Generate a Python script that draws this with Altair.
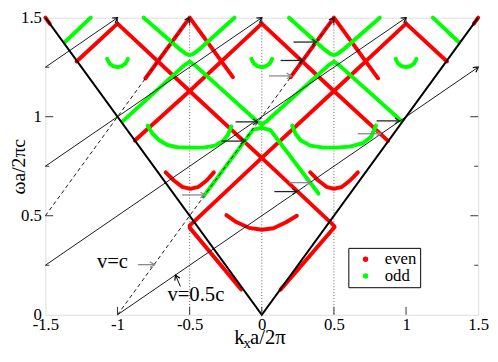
import math
import altair as alt
import pandas as pd

W, H = 440, 302

# ---------------- band data (kx a/2pi, omega a/2pi c) -------------
red_lines = [
    [(-0.500, 0.440), (-0.143, 0.127)],
    [(0.130, 0.127), (0.505, 0.443)],
    [(-1.000, 1.470), (-0.500, 1.130), (0.000, 0.792), (0.500, 0.450)],
    [(-0.500, 0.450), (0.000, 0.792), (0.500, 1.130), (1.000, 1.470)],
    [(-0.880, 0.880), (-0.500, 1.130), (0.000, 1.470)],
    [(0.000, 1.470), (0.500, 1.130), (0.875, 0.878)],
    [(-1.284, 1.279), (-1.000, 1.470)],
    [(1.000, 1.470), (1.284, 1.279)],
    [(-0.807, 1.193), (-0.500, 1.500), (-0.200, 1.200)],
    [(0.200, 1.200), (0.500, 1.500), (0.806, 1.194)],
    [(-1.500, 1.500), (-1.470, 1.470)],
    [(1.470, 1.470), (1.500, 1.500)],
]
red_arcs = [
    [(-0.245, 0.503), (-0.177, 0.468), (-0.089, 0.439), (0.000, 0.429),
     (0.080, 0.437), (0.165, 0.466), (0.243, 0.500)],
    [(-0.666, 0.719), (-0.609, 0.678), (-0.552, 0.646), (-0.496, 0.636),
     (-0.438, 0.646), (-0.382, 0.678), (-0.332, 0.719)],
    [(0.336, 0.719), (0.392, 0.678), (0.448, 0.646), (0.500, 0.636),
     (0.556, 0.646), (0.612, 0.678), (0.666, 0.719)],
]
green_lines = [
    [(-1.186, 1.500), (-1.366, 1.376)],
    [(1.186, 1.500), (1.366, 1.376)],
    [(-0.818, 1.500), (-0.560, 1.336), (-0.525, 1.317), (-0.500, 1.311),
     (-0.475, 1.317), (-0.440, 1.336), (-0.189, 1.500)],
    [(0.189, 1.500), (0.440, 1.336), (0.475, 1.317), (0.500, 1.311),
     (0.525, 1.317), (0.560, 1.336), (0.818, 1.500)],
    [(-0.961, 0.979), (-0.540, 1.258), (-0.500, 1.278), (-0.460, 1.258),
     (-0.035, 0.978), (0.000, 0.960), (0.035, 0.978), (0.460, 1.258),
     (0.500, 1.278), (0.540, 1.258), (0.966, 0.980)],
    [(-0.404, 0.598), (-0.060, 0.935), (0.000, 0.944), (0.060, 0.932), (0.393, 0.612)],
]
green_arcs = [
    [(-0.791, 0.955), (-0.757, 0.914), (-0.711, 0.881), (-0.655, 0.857), (-0.586, 0.846),
     (-0.496, 0.844), (-0.404, 0.844), (-0.325, 0.854), (-0.268, 0.877), (-0.234, 0.909),
     (-0.211, 0.951)],
    [(0.211, 0.955), (0.234, 0.914), (0.268, 0.881), (0.336, 0.854), (0.427, 0.844),
     (0.518, 0.844), (0.609, 0.849), (0.700, 0.866), (0.757, 0.898), (0.791, 0.955)],
    [(-1.072, 1.292), (-1.055, 1.268), (-1.030, 1.255), (-1.000, 1.251),
     (-0.970, 1.255), (-0.945, 1.268), (-0.928, 1.292)],
    [(-0.072, 1.292), (-0.055, 1.268), (-0.030, 1.255), (0.000, 1.251),
     (0.030, 1.255), (0.055, 1.268), (0.072, 1.292)],
    [(0.928, 1.292), (0.945, 1.268), (0.970, 1.255), (1.000, 1.251),
     (1.030, 1.255), (1.055, 1.268), (1.072, 1.292)],
]

# ---------------- reference lines --------------------------------------------------------
light_cone = [(-1.5, 1.5), (0.0, 0.0), (1.5, 1.5)]
beam_lines = [  # v = 0.5c
    [(-1.0, 0.0), (1.5, 1.25)],
    [(-1.5, 0.25), (1.0, 1.5)],
    [(-1.5, 0.75), (0.0, 1.5)],
    [(-1.5, 1.25), (-1.0, 1.5)],
]
light_lines = [  # v = c
    [(-1.0, 0.0), (0.5, 1.5)],
    [(-1.5, 0.5), (-0.5, 1.5)],
]
zone_edges = [-0.5, 0.0, 0.5]

# horizontal marker arrows
arrow_w = [1.377, 1.284, 1.206, 0.974, 0.877, 0.605, 0.979, 0.914, 0.667, 0.622, 0.253]
arrow_k0 = [0.220, 0.130, 0.050, -0.182, -0.280, -0.552, 0.796, 0.666, 0.189, 0.087, -0.859]
arrow_k1 = [0.380, 0.288, 0.205, -0.029, -0.114, -0.393, 0.955, 0.825, 0.336, 0.245, -0.743]
arrow_tone = ["#222222", "#222222", "#8a8a8a", "#222222", "#222222", "#8a8a8a",
              "#222222", "#8a8a8a", "#8a8a8a", "#222222", "#8a8a8a"]
# v=0.5c pointer
pointer = [(-0.564, 0.143), (-0.598, 0.200)]

labels_text = ["v=c", "v=0.5c"]
labels_k = [-1.035, -0.457]
labels_w = [0.234, 0.068]

x_ticks = [-1.0, -0.5, 0.0, 0.5, 1.0]
y_major = [0.5, 1.0]
y_minor = [0.25, 0.75, 1.25]

# ---------------- frames -------------------------------------------------------------------
def frame(groups, tag, parity=None):
    rows = []
    for i, pts in enumerate(groups):
        for j, (k, w) in enumerate(pts):
            rows.append({"seg": f"{tag}{i}", "idx": j, "kx": k, "w": w, "parity": parity})
    return pd.DataFrame(rows)

red_df = frame(red_lines + red_arcs, "r", "even")
green_df = frame(green_lines + green_arcs, "g", "odd")
cone_df = frame([light_cone], "c")
beam_df = frame(beam_lines, "b")
light_df = frame(light_lines, "l")
# band vertices as dots (they sit under the band strokes and carry the legend)
dots_df = pd.concat([red_df[red_df["idx"] == 0], green_df[green_df["idx"] == 0]])

sx, sy = W / 3.0, H / 1.5  # px per data unit


def px_angle(p0, p1):
    dx = (p1[0] - p0[0]) * sx
    dy = -(p1[1] - p0[1]) * sy
    return math.degrees(math.atan2(dy, dx)) % 360


heads = []
for seg in beam_lines + light_lines:
    heads.append({"kx": seg[-1][0], "w": seg[-1][1], "ang": px_angle(seg[-2], seg[-1]), "col": "#000000"})
for k0, k1, w, c in zip(arrow_k0, arrow_k1, arrow_w, arrow_tone):
    heads.append({"kx": k1, "w": w, "ang": 0.0, "col": c})
heads.append({"kx": pointer[1][0], "w": pointer[1][1], "ang": px_angle(pointer[0], pointer[1]), "col": "#000000"})
heads_df = pd.DataFrame(heads)

harrow_df = pd.DataFrame({"kx": arrow_k0, "kx2": arrow_k1, "w": arrow_w, "col": arrow_tone})
pointer_df = pd.DataFrame({"kx": [pointer[0][0]], "kx2": [pointer[1][0]],
                           "w": [pointer[0][1]], "w2": [pointer[1][1]]})
text_df = pd.DataFrame({"kx": labels_k, "w": labels_w, "t": labels_text})

SERIF = "'Liberation Serif', 'Times New Roman', Times, 'DejaVu Serif', serif"
label_expr = "replace(format(datum.value, '~g'), '\u2212', '-')"

xaxis = alt.Axis(values=[-1.5, -1, -0.5, 0, 0.5, 1, 1.5], title=None, ticks=False, tickSize=0,
                 domain=False, grid=False, labelFont=SERIF, labelFontSize=17, labelColor="black",
                 labelPadding=2, labelFlush=False, labelOverlap=False, labelExpr=label_expr)
yaxis = alt.Axis(values=[0, 0.5, 1, 1.5], title="\u03c9a/2\u03c0c", ticks=False, tickSize=0,
                 domain=False, grid=False, labelFont=SERIF, labelFontSize=17, labelColor="black",
                 labelPadding=4, labelFlush=False, labelOverlap=False, labelExpr=label_expr,
                 titleFont=SERIF, titleFontSize=20, titleFontWeight="normal", titleColor="black",
                 titleAngle=270, titleX=-27, titleBaseline="middle")
xsc = alt.Scale(domain=[-1.5, 1.5], nice=False, zero=False)
ysc = alt.Scale(domain=[0, 1.5], nice=False, zero=False)
X = alt.X("kx:Q", scale=xsc, axis=xaxis)
Y = alt.Y("w:Q", scale=ysc, axis=yaxis)

band_scale = alt.Scale(domain=["even", "odd"], range=["#ff0000", "#00ff00"])
color_nolegend = alt.Color("parity:N", scale=band_scale, legend=None)
color_legend = alt.Color("parity:N", scale=band_scale,
                         legend=alt.Legend(title=None, orient="none", legendX=308, legendY=234,
                                           symbolType="circle", symbolSize=16,
                                           symbolOffset=6, labelFont=SERIF, labelFontSize=17,
                                           labelColor="black", labelOffset=11, strokeColor="black",
                                           fillColor="white", padding=3, rowPadding=-1))

dots = alt.Chart(dots_df).mark_circle(size=12, opacity=1).encode(x=X, y=Y, color=color_legend)

edges = alt.Chart(pd.DataFrame({"kx": zone_edges})).mark_rule(
    color="#666666", strokeWidth=1, strokeDash=[1, 2]).encode(x=X, y=alt.value(0), y2=alt.value(H))

red = alt.Chart(red_df).mark_line(strokeWidth=4, strokeCap="round", strokeJoin="round").encode(
    x=X, y=Y, color=color_nolegend, detail="seg:N", order="idx:Q")
green = alt.Chart(green_df).mark_line(strokeWidth=4, strokeCap="round", strokeJoin="round").encode(
    x=X, y=Y, color=color_nolegend, detail="seg:N", order="idx:Q")

cone = alt.Chart(cone_df).mark_line(color="black", strokeWidth=2).encode(x=X, y=Y, order="idx:Q")
beams = alt.Chart(beam_df).mark_line(color="black", strokeWidth=0.9).encode(
    x=X, y=Y, detail="seg:N", order="idx:Q")
lights = alt.Chart(light_df).mark_line(color="black", strokeWidth=0.9, strokeDash=[4, 3]).encode(
    x=X, y=Y, detail="seg:N", order="idx:Q")

harrows = alt.Chart(harrow_df).mark_rule(strokeWidth=1.3).encode(
    x=X, x2="kx2:Q", y=Y, color=alt.Color("col:N", scale=None))
pointer_rule = alt.Chart(pointer_df).mark_rule(strokeWidth=1, color="black").encode(
    x=X, x2="kx2:Q", y=Y, y2="w2:Q")
heads_layer = alt.Chart(heads_df).mark_point(
    shape="M-1,-0.6L0,0L-1,0.6", filled=False, size=90, strokeWidth=1.2, opacity=1).encode(
    x=X, y=Y, angle=alt.Angle("ang:Q", scale=None), color=alt.Color("col:N", scale=None))

texts = alt.Chart(text_df).mark_text(font=SERIF, fontSize=21, baseline="alphabetic",
                                     align="center", color="black").encode(x=X, y=Y, text="t:N")

ytick_major = pd.DataFrame({"w": y_major})
ytick_minor = pd.DataFrame({"w": y_minor})
xtick = pd.DataFrame({"kx": x_ticks})
tick_col = "#333333"
ticks = [
    alt.Chart(ytick_major).mark_rule(color=tick_col).encode(y=Y, x=alt.value(0), x2=alt.value(8)),
    alt.Chart(ytick_major).mark_rule(color=tick_col).encode(y=Y, x=alt.value(W - 8), x2=alt.value(W)),
    alt.Chart(ytick_minor).mark_rule(color=tick_col).encode(y=Y, x=alt.value(0), x2=alt.value(4)),
    alt.Chart(ytick_minor).mark_rule(color=tick_col).encode(y=Y, x=alt.value(W - 4), x2=alt.value(W)),
    alt.Chart(xtick).mark_rule(color=tick_col).encode(x=X, y=alt.value(H - 8), y2=alt.value(H)),
    alt.Chart(xtick).mark_rule(color=tick_col).encode(x=X, y=alt.value(0), y2=alt.value(8)),
]

# x-axis title "k_x a/2pi" assembled from three text pieces
title_text = ["k", "x", "a/2\u03c0"]
title_dx = [-28, -18.5, -12]
title_dy = [30, 34, 30]
title_fs = [21, 15, 21]
xtitle = [
    alt.Chart(pd.DataFrame({"t": [t]})).mark_text(
        font=SERIF, fontSize=fs, align="left", baseline="alphabetic", color="black").encode(
        x=alt.value(W / 2 + dx), y=alt.value(H + dy), text="t:N")
    for t, dx, dy, fs in zip(title_text, title_dx, title_dy, title_fs)
]

chart = alt.layer(
    dots, edges, red, green, cone, beams, lights, harrows, pointer_rule, heads_layer, texts,
    *ticks, *xtitle
).properties(
    width=W, height=H, autosize="none",
    padding={"left": 38, "top": 7, "right": 12, "bottom": 35},
).configure_view(stroke="#222222", strokeWidth=1.5).configure(background="white")

chart.save("out.html", embed_options={"renderer": "svg", "actions": False})
